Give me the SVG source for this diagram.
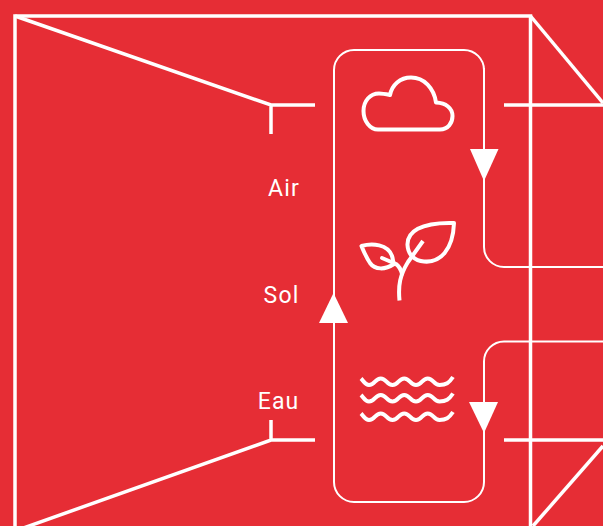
<svg xmlns="http://www.w3.org/2000/svg" width="603" height="526" viewBox="0 0 603 526">
<style>
.l{fill:none;stroke:#fff;stroke-width:3.500}
.t{fill:none;stroke:#fff;stroke-width:2}
.i{fill:none;stroke:#fff;stroke-width:4;stroke-linecap:round;stroke-linejoin:round}
.b{stroke-linecap:butt}
.a{fill:#fff;stroke:none}
text{font-family:"Roboto","Liberation Sans",sans-serif;font-size:23px;fill:#fff;letter-spacing:1.200px;text-anchor:end}
</style>
<defs>
<path id="wave" class="i b" d="M361 378.500C363.500 381 365 385 369 385C375 385 375 378.500 380.750 378.500C386.500 378.500 386.500 385 392.500 385C398.500 385 398.500 378.500 404.250 378.500C410 378.500 410 385 416 385C422 385 422 378.500 427.750 378.500C433.500 378.500 433.500 385 439.500 385C446 385 449 383 453 377"/>
</defs>
<rect width="603" height="526" fill="#e62d35"/>
<g id="connectors">
<path class="l" d="M15 530V16H530.500V526"/>
<path class="l" d="M15 16L271 105H315M271 105V134"/>
<path class="l" d="M15 531L271 440H315M271 440V420"/>
<path class="l" d="M530.500 16L603 103"/>
<path class="l" d="M603 446L533 526"/>
<path class="l" d="M504 105H603M504 440H603"/>
<path class="t" d="M484 68V247A20 20 0 0 0 504 267H603"/>
<path class="t" d="M603 341.500H504A20 20 0 0 0 484 361.500V450"/>
<path class="a" d="M470 149H498.500L484 181Z"/>
<path class="a" d="M469 402H498L484 433Z"/>
<path class="a" d="M333.500 293L348 323H319Z"/>
</g>
<g id="box"><path class="t" d="M484 70A20 20 0 0 0 464 50H354A20 20 0 0 0 334 70V482A20 20 0 0 0 354 502H464A20 20 0 0 0 484 482V450"/></g>
<g id="air">
<path class="i" d="M378 129.500H440C448 129.500 452.500 123 452.500 116C452.500 108 446 103 436 102.500C434 88 424 77.500 411 77.500C400 77.500 392 85 390 95C385 94 382 93.500 379 93.500C370 93.500 363.500 101 363.500 111C363.500 121 370 129.500 378 129.500Z"/>
<text x="300" y="196">Air</text>
</g>
<g id="sol">
<path class="i b" d="M399.500 300.500C398 285 400 275 408 262L423 241"/>
<path class="i" d="M454 223C453 250 440 263 424 261.500C415 261 408 255 407.500 245C407 232 420 222 454 223Z"/>
<path class="i" d="M361.500 246C372 243 388 244 392 256C393 259 393 262 394 264C385 270 375 270 370 263C366 257 364 252 361.500 246Z"/>
<path class="i" d="M382 258L396 264C399 266 401 270 402 274"/>
<text x="299.500" y="303">Sol</text>
</g>
<g id="eau">
<use href="#wave"/>
<use href="#wave" y="16.500"/>
<use href="#wave" y="35"/>
<text x="299.500" y="409">Eau</text>
</g>
</svg>
